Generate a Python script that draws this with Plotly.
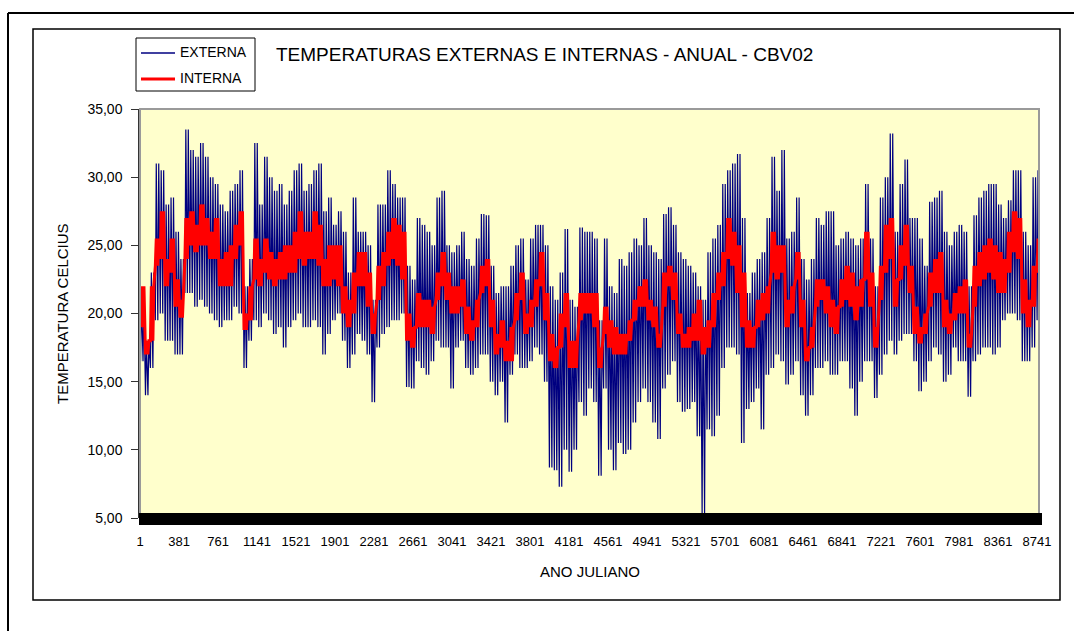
import plotly.graph_objects as go

# ---------------- data ----------------
# Each entry covers a 2-day (48 h) block of the year: highest and lowest value seen.
# Each day of the block is drawn as one daily swing between these two values.
PERIOD_HOURS = 48

externa_max = [
    21, 18, 23, 31, 30.5, 28, 28.5, 26, 24, 33.5,
    32, 31.5, 32.5, 31.5, 30, 29.5, 28, 27.5, 29, 29.5,
    30.5, 22, 24, 32.5, 28, 31.5, 30, 29, 29.5, 28,
    29, 30.5, 31, 29, 29.5, 30.5, 31, 27.5, 28.5, 26.5,
    27.5, 26, 23, 28.5, 26, 26, 25, 21, 28, 28,
    30.5, 29.5, 28.5, 28.5, 23.5, 22.5, 27, 26.5, 26, 25,
    28.5, 29, 25, 24.5, 25, 26, 24, 23.5, 25.5, 27.3,
    27.2, 23.5, 21.5, 22, 22, 23.5, 25, 25.5, 22.5, 25.5,
    26.5, 26.5, 25, 22, 21, 23, 26.2, 21, 20.5, 26.3,
    26, 26, 25.5, 19.5, 25.5, 22, 21.5, 24, 23.5, 24.5,
    25.5, 25, 27, 25, 24.5, 24, 27.3, 27.8, 26.5, 24.5,
    24, 23.5, 23, 22, 21, 24.5, 25.5, 26.5, 29.5, 30.5,
    31, 31.7, 27, 21.5, 23, 24, 24.5, 27, 31.5, 29,
    32, 25.5, 26, 28.5, 24, 22.5, 24, 27, 26.5, 27.5,
    27.5, 25, 25.5, 26, 25.5, 25, 25.5, 29.5, 25.5, 22,
    28.5, 30, 33.2, 26, 29.5, 31.3, 27, 27, 25.5, 23.5,
    28.2, 28.5, 29, 26, 25, 26, 26.5, 26, 22, 27.2,
    28.5, 29, 29.5, 29.5, 28, 27, 28.3, 30.5, 30.5, 26,
    25, 30, 30.5,
]
externa_min = [
    16.5, 14, 16, 19.5, 20, 18, 18, 17, 17, 21.5,
    21.5, 20.5, 21, 20.5, 20, 19.5, 19, 19.5, 19.5, 20.5,
    20, 16, 18, 19.5, 19, 20, 19.5, 18.5, 19, 17.5,
    19, 19.5, 20, 19, 19, 19.5, 19, 17, 18.5, 19.5,
    20, 18, 16, 17, 18.5, 18, 17, 13.5, 17.5, 18.5,
    19, 19.5, 19.5, 20, 14.6, 14.5, 16.5, 16, 15.5, 16.5,
    18, 17.5, 17.5, 14.5, 17.5, 18, 16, 15.5, 16, 17,
    17, 15, 14, 15, 12, 15.5, 17, 16, 16, 16.5,
    17.5, 17, 15, 8.7, 8.5, 7.3, 10, 8.4, 10, 13.5,
    12.5, 14.5, 13.5, 8.1, 14.5, 10, 8.5, 10.5, 9.7, 10,
    12, 13.5, 14.5, 13.5, 12, 10.8, 14.5, 15.5, 16.5, 13.5,
    12.8, 13, 13.5, 11, 5.3, 11.5, 11, 12.5, 16, 17.5,
    17.5, 17, 10.5, 13, 13.5, 14.5, 11.5, 15.5, 16, 17,
    16.5, 14.8, 15.5, 16.5, 14, 12.5, 14, 16, 16, 16.5,
    15.5, 15.5, 16.5, 16.5, 14.5, 12.5, 15, 16.5, 16.5, 13.8,
    15.5, 17, 18, 17, 18, 18.5, 18.5, 16.5, 14.3, 15,
    16.5, 17.5, 17, 15, 15.5, 17.5, 16.5, 16.5, 13.9, 16.5,
    17, 17.5, 17.5, 17, 17.5, 19.5, 20, 20, 19.5, 16.5,
    16.5, 17.5, 19.5,
]
interna_max = [
    22, 18, 22, 25.5, 27.5, 24, 25.5, 22.5, 21, 27,
    27.5, 26.5, 28, 27, 26, 27, 24, 24.5, 25, 26.5,
    27.5, 20, 22, 25.5, 24, 25.5, 24.5, 24, 24.5, 25,
    25, 26, 27.5, 26, 26, 27.5, 26.5, 24, 25, 25,
    25, 22, 21, 23, 24.5, 24.5, 23, 20, 23.5, 24.5,
    26, 27, 26.5, 26, 20, 19, 21.5, 21, 21, 20.5,
    23, 24.5, 23, 22, 22, 22.5, 20.5, 19.5, 21, 23.5,
    24, 21, 18.5, 19.5, 18, 19, 21.5, 23, 20, 21,
    22.5, 24.5, 21.5, 18.5, 17.5, 20, 21.5, 18, 18, 21.5,
    21.5, 21.5, 21.5, 17.5, 20.5, 19.5, 19, 18.5, 18.5, 19.5,
    21, 22, 22.5, 21, 20.5, 18.5, 23, 23.5, 23, 20,
    18.5, 19, 20, 21, 19, 19.5, 21.5, 23, 24.5, 27,
    26, 25, 23, 19.5, 19, 21, 21.5, 22, 26, 25,
    25, 21, 22, 24.5, 21, 17.5, 19, 22.5, 22.5, 22,
    21, 20.5, 22.5, 23.5, 23, 22, 22.5, 26, 23, 19,
    23.5, 26.5, 27, 22.5, 25, 26.5, 23.5, 20.5, 19, 20,
    23, 24, 24.5, 21, 20, 21.5, 22, 22.5, 18.5, 23.5,
    24.5, 25, 25.5, 25, 24.5, 24, 26, 27.5, 27, 22.5,
    21, 23.5, 25.5,
]
interna_min = [
    19, 17, 18, 23.5, 24, 22, 23, 20.5, 19.7, 24,
    25, 24.5, 25, 25, 24, 24, 22, 22, 22, 24,
    25, 18.8, 19.5, 22.5, 22, 23, 22.5, 22, 22.5, 22.5,
    23, 23, 24, 23.5, 24, 24, 23.5, 22, 22, 22.5,
    22, 20, 19, 20, 22, 22, 20.5, 18.5, 21, 22,
    23.5, 24, 23.5, 22.5, 18, 17.5, 19, 19, 19, 18.5,
    21, 22, 21, 20, 20, 20.5, 18.5, 18, 19, 21.5,
    22, 19, 17, 17.5, 16.5, 16.5, 19.5, 21, 18.5, 19,
    20.5, 22, 19.5, 16.5, 16, 17.5, 19, 16, 16, 19.5,
    20, 20, 19, 16, 18.5, 17.5, 17, 17, 17, 18,
    19.5, 20.5, 20.5, 19.5, 19, 17.5, 20.5, 22, 21, 18.5,
    17.5, 17.5, 18, 18, 17, 17.5, 19, 21, 22, 24,
    23.5, 21.5, 19, 17.5, 17.5, 19, 19.5, 20, 23, 22.5,
    23, 19, 20, 22.5, 19, 16.5, 17.5, 20.5, 21, 20,
    19, 18.5, 20.5, 21, 20.5, 19.5, 20.5, 22.5, 20.5, 17.5,
    21, 23, 24, 20.5, 22.5, 23.5, 21.5, 18.5, 17.8, 18.5,
    20.5, 21.5, 21.5, 19, 18.5, 19.5, 20, 20, 17.5, 20.5,
    22, 22.5, 23, 22.5, 21.5, 21.5, 23, 24.5, 24, 20,
    19, 20.5, 23,
]

x_tick_values = list(range(1, 8761, 380))          # 1, 381, ..., 8741
x_tick_labels = [str(v) for v in x_tick_values]
y_tick_values = [5, 10, 15, 20, 25, 30, 35]

title_text = "TEMPERATURAS EXTERNAS E INTERNAS - ANUAL - CBV02"
x_title = "ANO JULIANO"
y_title = "TEMPERATURA CELCIUS"
name_ext = "EXTERNA"
name_int = "INTERNA"


def daily_swings(lows, highs):
    """One low (early morning) and one high (afternoon) per day of each block."""
    xs, ys = [], []
    for i, (lo, hi) in enumerate(zip(lows, highs)):
        start = i * PERIOD_HOURS
        for day in range(PERIOD_HOURS // 24):
            xs += [start + day * 24 + 6, start + day * 24 + 15]
            ys += [lo, hi]
    return xs, ys


ext_x, ext_y = daily_swings(externa_min, externa_max)
int_x, int_y = daily_swings(interna_min, interna_max)

# ---------------- figure ----------------
W, H = 1074, 631
L, R, T, B = 140, 1039, 109, 518


def px(x):
    return (x - L) / (R - L)


def py(y):
    return (B - y) / (B - T)


fig = go.Figure()
fig.add_trace(go.Scatter(x=ext_x, y=ext_y, mode="lines", name=name_ext,
                         line=dict(color="#000080", width=1.2), showlegend=False))
fig.add_trace(go.Scatter(x=int_x, y=int_y, mode="lines", name=name_int,
                         line=dict(color="#FF0000", width=3), showlegend=False))

FONT = "Liberation Sans, Arial, sans-serif"
NARROW = "Liberation Sans Narrow, Arial Narrow, Liberation Sans, Arial, sans-serif"

shapes = [
    # outer frame (only top/left visible)
    dict(type="line", xref="paper", yref="paper", x0=px(8), x1=px(1090), y0=py(13), y1=py(13),
         line=dict(color="black", width=2)),
    dict(type="line", xref="paper", yref="paper", x0=px(8), x1=px(8), y0=py(13), y1=py(650),
         line=dict(color="black", width=2)),
    # chart frame
    dict(type="rect", xref="paper", yref="paper", x0=px(33), x1=px(1060), y0=py(600), y1=py(29),
         line=dict(color="black", width=1.5)),
    # plot-area border
    dict(type="rect", xref="paper", yref="paper", x0=0, x1=1, y0=0, y1=1,
         line=dict(color="#9a9a9a", width=2)),
    # dense category tick band
    dict(type="rect", xref="paper", yref="paper", x0=px(139), x1=px(1042), y0=py(525), y1=py(513),
         fillcolor="black", line=dict(width=0), layer="above"),
    # legend box and samples
    dict(type="rect", xref="paper", yref="paper", x0=px(136), x1=px(255), y0=py(91), y1=py(38),
         line=dict(color="black", width=1), fillcolor="white"),
    dict(type="line", xref="paper", yref="paper", x0=px(141), x1=px(175), y0=py(53), y1=py(53),
         line=dict(color="#000080", width=1.5)),
    dict(type="line", xref="paper", yref="paper", x0=px(141), x1=px(175), y0=py(79), y1=py(79),
         line=dict(color="#FF0000", width=3)),
]

annotations = [
    dict(text=title_text, xref="paper", yref="paper", x=px(274), y=py(55), xanchor="left",
         yanchor="middle", showarrow=False, font=dict(family=FONT, size=19, color="black")),
    dict(text=name_ext, xref="paper", yref="paper", x=px(178), y=py(52), xanchor="left",
         yanchor="middle", showarrow=False, font=dict(family=FONT, size=14, color="black")),
    dict(text=name_int, xref="paper", yref="paper", x=px(178), y=py(78), xanchor="left",
         yanchor="middle", showarrow=False, font=dict(family=FONT, size=14, color="black")),
    dict(text=x_title, xref="paper", yref="paper", x=px(590), y=py(571), xanchor="center",
         yanchor="middle", showarrow=False, font=dict(family=FONT, size=15, color="black")),
    dict(text=y_title, xref="paper", yref="paper", x=px(62), y=py(314), xanchor="center",
         yanchor="middle", textangle=-90, showarrow=False,
         font=dict(family=FONT, size=15, color="black")),
]

fig.update_layout(
    width=W, height=H,
    margin=dict(l=L, r=W - R, t=T, b=H - B, pad=0),
    paper_bgcolor="white",
    plot_bgcolor="#FFFFCC",
    separators=",.",
    showlegend=False,
    shapes=shapes,
    annotations=annotations,
    xaxis=dict(range=[0.5, 8760.5], tickmode="array", tickvals=x_tick_values,
               ticktext=x_tick_labels, showgrid=False, zeroline=False, showline=False,
               ticks="", ticklabelstandoff=14,
               tickfont=dict(family=NARROW, size=13, color="black")),
    yaxis=dict(range=[5, 35], tickmode="array", tickvals=y_tick_values, tickformat=".2f",
               showgrid=False, zeroline=False, showline=True, linecolor="#333333", linewidth=1.5,
               ticks="outside", ticklen=7, tickcolor="#333333", tickwidth=1,
               ticklabelstandoff=6,
               tickfont=dict(family=FONT, size=14, color="black")),
)

fig.write_html("out.html")
